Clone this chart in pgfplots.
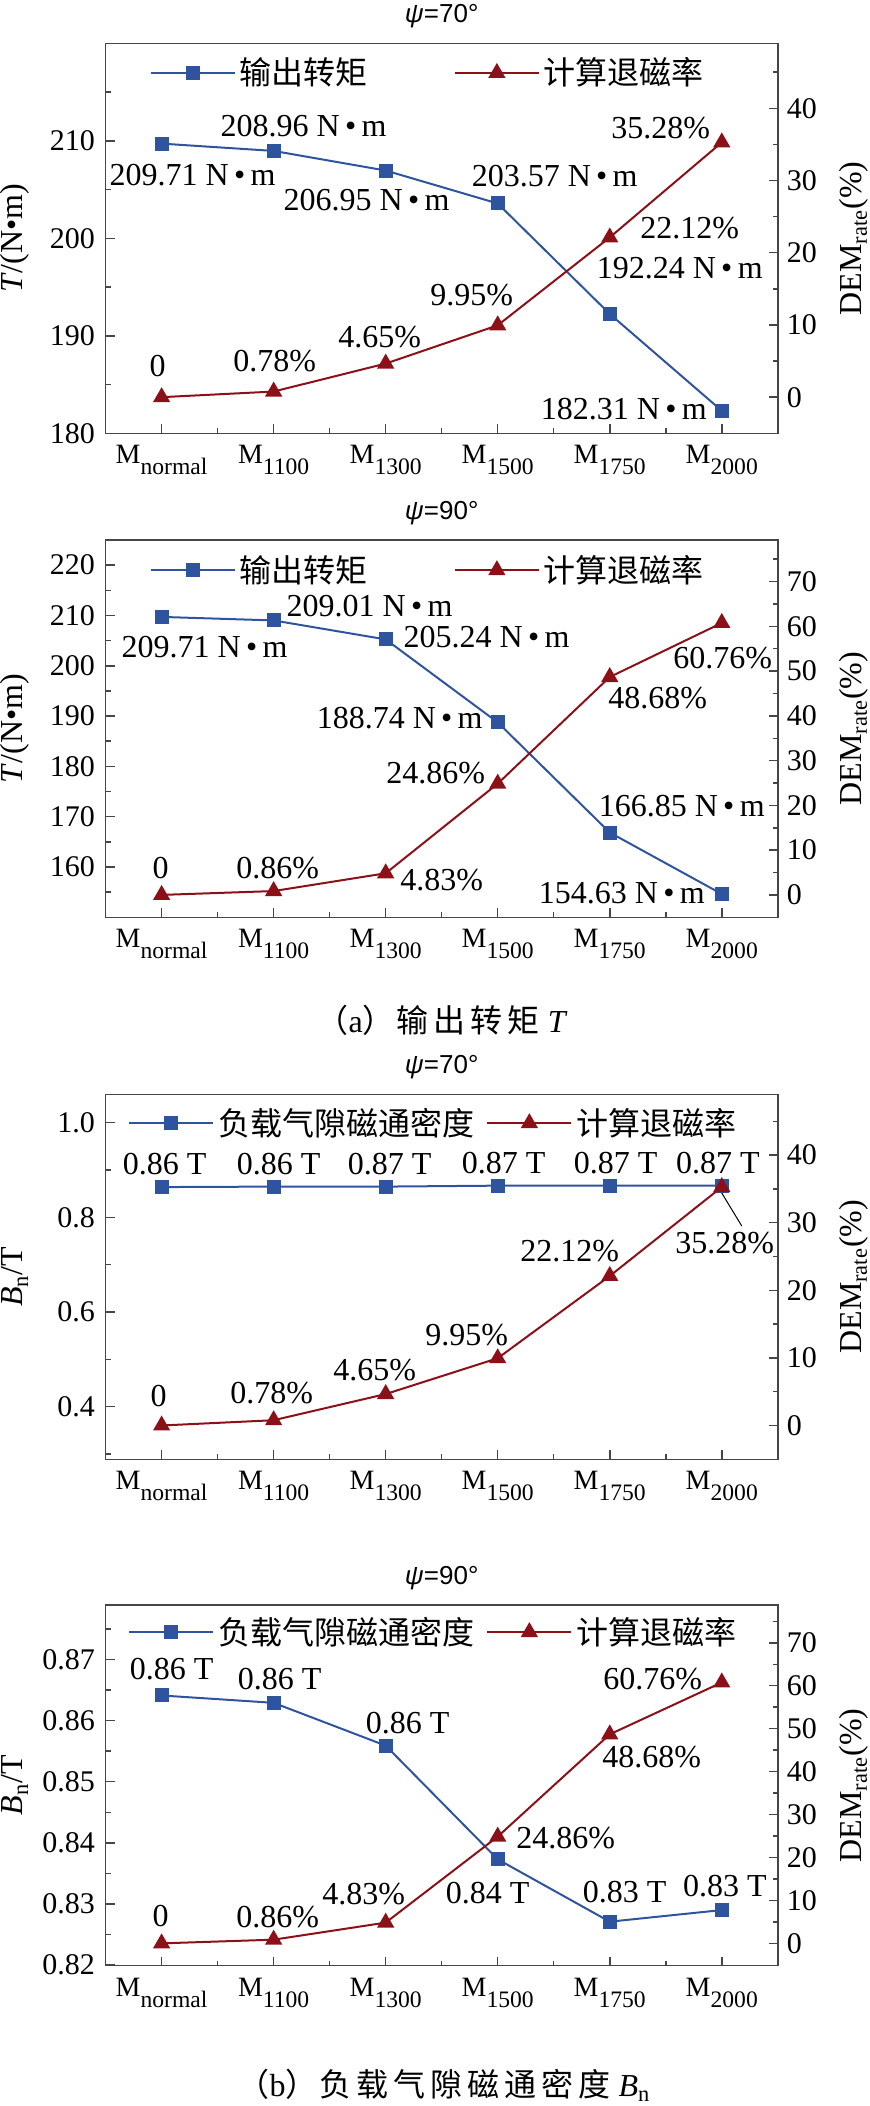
\documentclass[border=0pt]{standalone}
\usepackage{fontspec}
\setmainfont{Liberation Serif}
\newfontfamily\cjk{Noto Sans CJK SC}
\newfontfamily\sans{Liberation Sans}
\usepackage{pgfplots}
\pgfplotsset{compat=1.18}
\definecolor{myblue}{RGB}{46,84,160}
\definecolor{myred}{RGB}{139,16,24}
\definecolor{axgray}{RGB}{70,70,70}
\newcommand\fs[1]{\fontsize{#1}{#1}\selectfont}
\newcommand\Nm{N\,•\,m}
\newcommand\Ms[1]{M\raisebox{-5.5pt}{\fs{11.8}#1}}
\tikzset{lab/.style={font=\fs{16}, inner sep=0pt, text=black}}
\newcommand\lab[5]{\node[lab] at ([xshift={(#3)*0.5pt}, yshift={(#4)*(-0.5pt)}]axis cs:#1,#2) {#5};}
\pgfplotsset{
  base/.style={
    scale only axis, width=336.1pt, xmin=-0.5, xmax=5.5, anchor=south west, clip=false,
    tick align=inside, axis line style={axgray, line width=0.75pt},
    every tick/.style={axgray, line width=0.75pt},
    major tick length=4.5pt, minor tick length=2.5pt,
    tick label style={font=\fs{15}},
    /pgf/number format/assume math mode=true,
  },
  leftax/.style={base, xtick={0,...,5}, minor xtick={0.5,1.5,2.5,3.5,4.5}, xtick pos=left, ytick pos=left,
    xticklabels={\Ms{normal},\Ms{1100},\Ms{1300},\Ms{1500},\Ms{1750},\Ms{2000}},
    xticklabel style={font=\fs{14}, yshift=-2.5pt},
    yticklabel style={xshift=-1.8pt}},
  rightax/.style={base, axis x line=none, axis y line*=right, yticklabel style={xshift=1pt},
    legend style={draw=none, fill=none, inner sep=0pt, anchor=west, font=\cjk\fs{16}, legend cell align=left},
    legend columns=2,
    legend image code/.code={\draw[mark repeat=2,mark phase=2] plot coordinates {(0pt,0pt)(21pt,0pt)(42pt,0pt)};}},
  bl/.style={myblue, line width=1pt, mark=square*, mark size=3pt, mark options={solid, fill=myblue}},
  rd/.style={myred, line width=1pt, mark=triangle*, mark size=4pt, mark options={solid, fill=myred}},
}
\begin{document}
\begin{tikzpicture}
\path[use as bounding box] (0,0) rectangle (435pt,1053pt);

% ---------- Plot 1 ----------
\begin{axis}[leftax, at={(52.8pt,836.35pt)}, height=195pt, ymin=180, ymax=220,
  ytick={180,190,200,210}, minor ytick={185,195,205,215}]
\addplot[bl] coordinates {(0,209.71)(1,208.96)(2,206.95)(3,203.57)(4,192.24)(5,182.31)};
\lab{0}{209.71}{31}{31}{209.71 \Nm}
\lab{1}{208.96}{30}{-25}{208.96 \Nm}
\lab{2}{206.95}{-19}{30}{206.95 \Nm}
\lab{3}{203.57}{57}{-27}{203.57 \Nm}
\lab{4}{192.24}{70}{-46}{192.24 \Nm}
\lab{5}{182.31}{-98}{-2}{182.31 \Nm}
\node[rotate=90, font=\fs{16}, inner sep=0pt] at (rel axis cs:-0.1348,0.5) {\textit{T}/(N•m)};
\node[font=\sans\fs{13}] at ([yshift=13.5pt]rel axis cs:0.5,1) {\textit{ψ}=70°};
\end{axis}
\begin{axis}[rightax, at={(52.8pt,836.35pt)}, height=195pt, ymin=-5, ymax=49,
  ytick={0,10,20,30,40}, minor ytick={5,15,25,35,45},
  legend style={at={(0.0653,0.924)}, /tikz/every even column/.append style={column sep=41pt}}]
\addlegendimage{bl}\addlegendentry{输出转矩}
\addplot[rd] coordinates {(0,0)(1,0.78)(2,4.65)(3,9.95)(4,22.12)(5,35.28)};
\addlegendentry{计算退磁率}
\lab{0}{0}{-4}{-31}{0}
\lab{1}{0.78}{1}{-30}{0.78\%}
\lab{2}{4.65}{-6}{-27}{4.65\%}
\lab{3}{9.95}{-26}{-30}{9.95\%}
\lab{4}{22.12}{80}{-9}{22.12\%}
\lab{5}{35.28}{-61}{-14}{35.28\%}
\node[rotate=90, font=\fs{16}] at (rel axis cs:1.1133,0.5) {DEM\textsubscript{rate}(\%)};
\end{axis}

% ---------- Plot 2 ----------
\begin{axis}[leftax, at={(52.8pt,594.35pt)}, height=188.65pt, ymin=150, ymax=225,
  ytick={160,170,...,220}, minor ytick={155,165,...,215}]
\addplot[bl] coordinates {(0,209.71)(1,209.01)(2,205.24)(3,188.74)(4,166.85)(5,154.63)};
\lab{0}{209.71}{43}{30}{209.71 \Nm}
\lab{1}{209.01}{96}{-14}{209.01 \Nm}
\lab{2}{205.24}{101}{-2}{205.24 \Nm}
\lab{3}{188.74}{-98}{-4}{188.74 \Nm}
\lab{4}{166.85}{72}{-26}{166.85 \Nm}
\lab{5}{154.63}{-100}{-1}{154.63 \Nm}
\node[rotate=90, font=\fs{16}, inner sep=0pt] at (rel axis cs:-0.1348,0.5) {\textit{T}/(N•m)};
\node[font=\sans\fs{13}] at ([yshift=13.5pt]rel axis cs:0.5,1) {\textit{ψ}=90°};
\end{axis}
\begin{axis}[rightax, at={(52.8pt,594.35pt)}, height=188.65pt, ymin=-5, ymax=79.3,
  ytick={0,10,...,70}, minor ytick={5,15,...,75},
  legend style={at={(0.0653,0.920)}, /tikz/every even column/.append style={column sep=41pt}}]
\addlegendimage{bl}\addlegendentry{输出转矩}
\addplot[rd] coordinates {(0,0)(1,0.86)(2,4.83)(3,24.86)(4,48.68)(5,60.76)};
\addlegendentry{计算退磁率}
\lab{0}{0}{-1}{-27}{0}
\lab{1}{0.86}{4}{-23}{0.86\%}
\lab{2}{4.83}{56}{7}{4.83\%}
\lab{3}{24.86}{-62}{-11}{24.86\%}
\lab{4}{48.68}{48}{21}{48.68\%}
\lab{5}{60.76}{1}{35}{60.76\%}
\node[rotate=90, font=\fs{16}] at (rel axis cs:1.1133,0.5) {DEM\textsubscript{rate}(\%)};
\end{axis}

\node[font=\fs{16}] at (221pt,543pt) {{\cjk （}a{\cjk ）\kern1pt 输\kern2.5pt 出\kern2.5pt 转\kern2.5pt 矩}\kern4pt\textit{T}};

% ---------- Plot 3 ----------
\begin{axis}[leftax, at={(52.8pt,323.35pt)}, height=182.5pt, ymin=0.289, ymax=1.06,
  ytick={0.4,0.6,0.8,1.0}, minor ytick={0.3,0.5,0.7,0.9},
  yticklabel style={/pgf/number format/fixed, /pgf/number format/fixed zerofill, /pgf/number format/precision=1}]
\addplot[bl] coordinates {(0,0.864)(1,0.865)(2,0.865)(3,0.867)(4,0.867)(5,0.867)};
\lab{0}{0.864}{3}{-23}{0.86 T}
\lab{1}{0.865}{5}{-23}{0.86 T}
\lab{2}{0.865}{4}{-23}{0.87 T}
\lab{3}{0.867}{6}{-23}{0.87 T}
\lab{4}{0.867}{6}{-23}{0.87 T}
\lab{5}{0.867}{-4}{-23}{0.87 T}
\node[rotate=90, font=\fs{16}, inner sep=0pt] at (rel axis cs:-0.1348,0.5) {\textit{B}\textsubscript{n}/T};
\node[font=\sans\fs{13}] at ([yshift=13.5pt]rel axis cs:0.5,1) {\textit{ψ}=70°};
\end{axis}
\begin{axis}[rightax, at={(52.8pt,323.35pt)}, height=182.5pt, ymin=-5, ymax=49,
  ytick={0,10,20,30,40}, minor ytick={5,15,25,35,45},
  legend style={at={(0.0333,0.921)}, /tikz/every even column/.append style={column sep=4pt}}]
\addlegendimage{bl}\addlegendentry{负载气隙磁通密度}
\addplot[rd] coordinates {(0,0)(1,0.78)(2,4.65)(3,9.95)(4,22.12)(5,35.28)};
\addlegendentry{计算退磁率}
\lab{0}{0}{-3}{-29}{0}
\lab{1}{0.78}{-2}{-27}{0.78\%}
\lab{2}{4.65}{-11}{-24}{4.65\%}
\lab{3}{9.95}{-31}{-23}{9.95\%}
\lab{4}{22.12}{-40}{-25}{22.12\%}
\lab{5}{35.28}{3}{56}{35.28\%}
\draw[black, line width=0.5pt] ([yshift=-3pt]axis cs:5,35.28) -- ([xshift=10pt,yshift=-19.5pt]axis cs:5,35.28);
\node[rotate=90, font=\fs{16}] at (rel axis cs:1.1133,0.5) {DEM\textsubscript{rate}(\%)};
\end{axis}

% ---------- Plot 4 ----------
\begin{axis}[leftax, at={(52.8pt,70.15pt)}, height=180.35pt, ymin=0.8199, ymax=0.8789,
  ytick={0.82,0.83,...,0.87}, minor ytick={0.825,0.835,0.845,0.855,0.865,0.875},
  yticklabel style={/pgf/number format/fixed, /pgf/number format/fixed zerofill, /pgf/number format/precision=2}]
\addplot[bl] coordinates {(0,0.8641)(1,0.8629)(2,0.8559)(3,0.8373)(4,0.8271)(5,0.8290)};
\lab{0}{0.8641}{10}{-26}{0.86 T}
\lab{1}{0.8629}{6}{-24}{0.86 T}
\lab{2}{0.8559}{22}{-23}{0.86 T}
\lab{3}{0.8373}{-10}{34}{0.84 T}
\lab{4}{0.8271}{15}{-30}{0.83 T}
\lab{5}{0.8290}{3}{-24}{0.83 T}
\node[rotate=90, font=\fs{16}, inner sep=0pt] at (rel axis cs:-0.1348,0.5) {\textit{B}\textsubscript{n}/T};
\node[font=\sans\fs{13}] at ([yshift=13.5pt]rel axis cs:0.5,1) {\textit{ψ}=90°};
\end{axis}
\begin{axis}[rightax, at={(52.8pt,70.15pt)}, height=180.35pt, ymin=-5.2, ymax=78.8,
  ytick={0,10,...,70}, minor ytick={5,15,...,75},
  legend style={at={(0.0333,0.925)}, /tikz/every even column/.append style={column sep=4pt}}]
\addlegendimage{bl}\addlegendentry{负载气隙磁通密度}
\addplot[rd] coordinates {(0,0)(1,0.86)(2,4.83)(3,24.86)(4,48.68)(5,60.76)};
\addlegendentry{计算退磁率}
\lab{0}{0}{-1}{-27}{0}
\lab{1}{0.86}{4}{-23}{0.86\%}
\lab{2}{4.83}{-22}{-29}{4.83\%}
\lab{3}{24.86}{68}{1}{24.86\%}
\lab{4}{48.68}{42}{23}{48.68\%}
\lab{5}{60.76}{-69}{-3}{60.76\%}
\node[rotate=90, font=\fs{16}] at (rel axis cs:1.1133,0.5) {DEM\textsubscript{rate}(\%)};
\end{axis}

\node[font=\fs{16}] at (222pt,10.5pt) {{\cjk （}b{\cjk ）\kern1pt 负\kern2.5pt 载\kern2.5pt 气\kern2.5pt 隙\kern2.5pt 磁\kern2.5pt 通\kern2.5pt 密\kern2.5pt 度}\kern4pt\textit{B}\textsubscript{n}};
\end{tikzpicture}
\end{document}
